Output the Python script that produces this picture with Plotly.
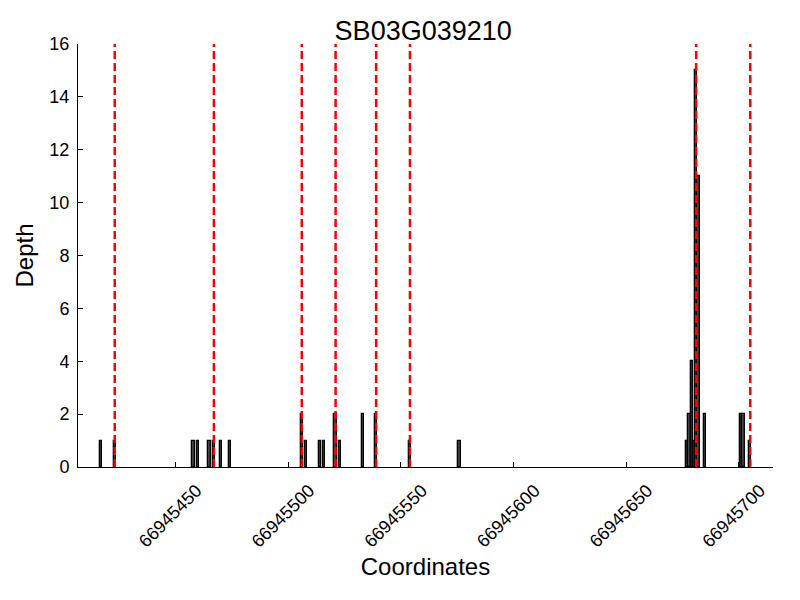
import plotly.graph_objects as go

title = "SB03G039210"
positions = [66945417, 66945423, 66945458, 66945460, 66945465, 66945467, 66945470, 66945474,
             66945506, 66945508, 66945514, 66945516, 66945521, 66945523, 66945533, 66945539,
             66945554, 66945576,
             66945677, 66945678, 66945679, 66945680, 66945681, 66945682, 66945685,
             66945701, 66945702, 66945705]
depths = [1, 1, 1, 1, 1, 1, 1, 1,
          2, 1, 1, 1, 2, 1, 2, 2,
          1, 1,
          1, 2, 4, 1, 15, 11, 2,
          2, 2, 1]
boundaries = [66945423, 66945467, 66945506, 66945521, 66945539, 66945554, 66945681, 66945705]
xticks = [66945450, 66945500, 66945550, 66945600, 66945650, 66945700]
yticks = [0, 2, 4, 6, 8, 10, 12, 14, 16]

fig = go.Figure()
fig.add_trace(go.Bar(x=positions, y=depths, width=1.0,
                     marker=dict(color="#454545", line=dict(color="black", width=1.3))))

for b in boundaries:
    fig.add_shape(type="line", x0=b, x1=b, y0=0, y1=1, xref="x", yref="paper",
                  line=dict(color="red", width=2.5, dash="8px,4px"), layer="above")

font = "Liberation Sans, Arial, sans-serif"
fig.update_layout(
    width=800, height=600,
    margin=dict(l=70, r=35, t=36, b=141, autoexpand=False),
    plot_bgcolor="white", paper_bgcolor="white",
    showlegend=False,
    title=dict(text=title, x=0.519, xanchor="center", y=0.963, yanchor="middle",
               font=dict(family=font, size=27, color="black")),
    font=dict(family=font, color="black"),
    bargap=0,
)
fig.update_xaxes(range=[66945406.7, 66945715.1], tickvals=xticks,
                 ticktext=[str(v) for v in xticks], tickangle=-45,
                 tickfont=dict(size=18), ticks="inside", ticklen=5, tickcolor="black",
                 ticklabelshift=21, ticklabelstandoff=5,
                 showline=True, linecolor="black", linewidth=1, showgrid=False, zeroline=False,
                 title=dict(text="Coordinates", font=dict(size=24), standoff=7))
fig.update_yaxes(range=[0, 16], tickvals=yticks, ticktext=[str(v) for v in yticks],
                 tickfont=dict(size=18), ticks="inside", ticklen=5, tickcolor="black",
                 ticklabelstandoff=4,
                 showline=True, linecolor="black", linewidth=1, showgrid=False, zeroline=False,
                 title=dict(text="Depth", font=dict(size=24), standoff=8))

fig.write_html("out.html")
